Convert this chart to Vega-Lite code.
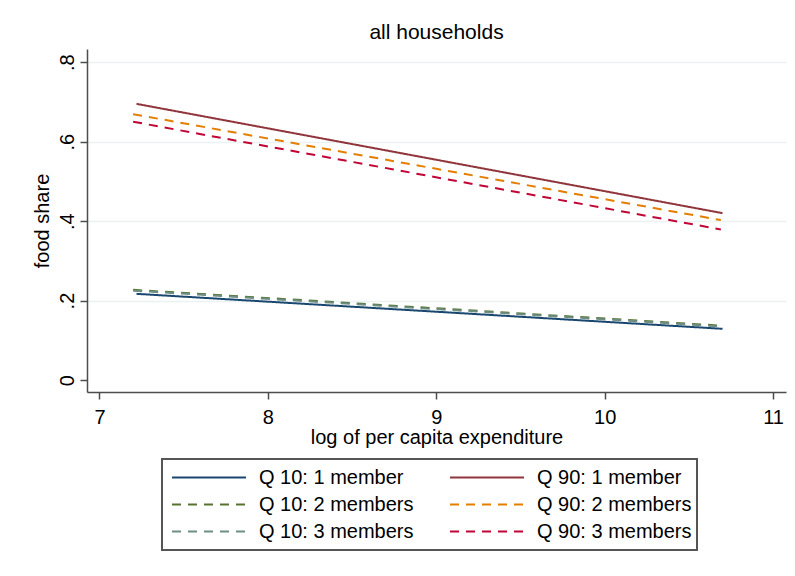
{
  "$schema": "https://vega.github.io/schema/vega-lite/v6.json",
  "width": 699,
  "height": 343,
  "autosize": {"type": "none"},
  "padding": {"left": 87, "top": 49, "right": 9, "bottom": 184},
  "background": "white",
  "title": {
    "text": "all households",
    "fontSize": 21,
    "font": "Liberation Sans",
    "fontWeight": "normal",
    "color": "#000000",
    "anchor": "middle",
    "frame": "group",
    "baseline": "alphabetic",
    "offset": 8,
    "dy": 19
  },
  "data": {
    "values": [
      {"x": 7.22, "y": 0.217, "s": "Q 10: 1 member"},
      {"x": 10.70, "y": 0.129, "s": "Q 10: 1 member"},
      {"x": 7.20, "y": 0.227, "s": "Q 10: 2 members"},
      {"x": 10.69, "y": 0.137, "s": "Q 10: 2 members"},
      {"x": 7.20, "y": 0.225, "s": "Q 10: 3 members"},
      {"x": 10.69, "y": 0.135, "s": "Q 10: 3 members"},
      {"x": 7.22, "y": 0.695, "s": "Q 90: 1 member"},
      {"x": 10.70, "y": 0.420, "s": "Q 90: 1 member"},
      {"x": 7.20, "y": 0.669, "s": "Q 90: 2 members"},
      {"x": 10.69, "y": 0.4025, "s": "Q 90: 2 members"},
      {"x": 7.20, "y": 0.650, "s": "Q 90: 3 members"},
      {"x": 10.69, "y": 0.379, "s": "Q 90: 3 members"}
    ]
  },
  "mark": {"type": "line", "strokeWidth": 2},
  "encoding": {
    "x": {
      "field": "x",
      "type": "quantitative",
      "scale": {"domain": [6.926, 11.077], "nice": false, "zero": false},
      "axis": {
        "title": "log of per capita expenditure",
        "values": [7, 8, 9, 10, 11],
        "grid": false,
        "tickSize": 7,
        "labelPadding": 8,
        "titlePadding": 0
      }
    },
    "y": {
      "field": "y",
      "type": "quantitative",
      "scale": {"domain": [-0.030, 0.833], "nice": false, "zero": false},
      "axis": {
        "title": "food share",
        "values": [0, 0.2, 0.4, 0.6, 0.8],
        "labelExpr": "datum.value == 0 ? '0' : '.' + round(datum.value * 10)",
        "labelAngle": 270,
        "labelAlign": "center",
        "labelBaseline": "bottom",
        "tickSize": 7,
        "labelPadding": 3,
        "titlePadding": 5,
        "grid": true,
        "gridOpacity": {"condition": {"test": "datum.value == 0", "value": 0}, "value": 1}
      }
    },
    "color": {
      "field": "s",
      "type": "nominal",
      "scale": {
        "domain": ["Q 10: 1 member", "Q 10: 2 members", "Q 10: 3 members", "Q 90: 1 member", "Q 90: 2 members", "Q 90: 3 members"],
        "range": ["#1a476f", "#55752f", "#6e8e84", "#90353b", "#e37e00", "#c10534"]
      },
      "legend": {
        "title": null,
        "orient": "none",
        "legendX": 75,
        "legendY": 410,
        "columns": 2
      }
    },
    "strokeDash": {
      "field": "s",
      "type": "nominal",
      "scale": {
        "domain": ["Q 10: 1 member", "Q 10: 2 members", "Q 10: 3 members", "Q 90: 1 member", "Q 90: 2 members", "Q 90: 3 members"],
        "range": [[1, 0], [9, 7], [9, 7], [1, 0], [9, 7], [9, 7]]
      },
      "legend": {
        "title": null,
        "orient": "none",
        "legendX": 75,
        "legendY": 410,
        "columns": 2
      }
    }
  },
  "config": {
    "view": {"stroke": null},
    "font": "Liberation Sans",
    "axis": {
      "domainColor": "#4d4d4d",
      "domainWidth": 1.5,
      "tickColor": "#4d4d4d",
      "tickWidth": 1.5,
      "labelFont": "Liberation Sans",
      "labelFontSize": 20,
      "labelColor": "#000000",
      "titleFont": "Liberation Sans",
      "titleFontSize": 20,
      "titleFontWeight": "normal",
      "titleColor": "#000000",
      "gridColor": "#eaf2f3",
      "gridWidth": 1.5
    },
    "legend": {
      "symbolType": "stroke",
      "symbolSize": 5476,
      "symbolStrokeWidth": 2,
      "symbolOffset": 4,
      "clipHeight": 27,
      "rowPadding": 0,
      "columnPadding": 31,
      "labelOffset": 12,
      "labelFont": "Liberation Sans",
      "labelFontSize": 20,
      "labelColor": "#000000",
      "labelLimit": 400,
      "padding": 5,
      "strokeColor": "#555555",
      "strokeWidth": 2
    }
  }
}
